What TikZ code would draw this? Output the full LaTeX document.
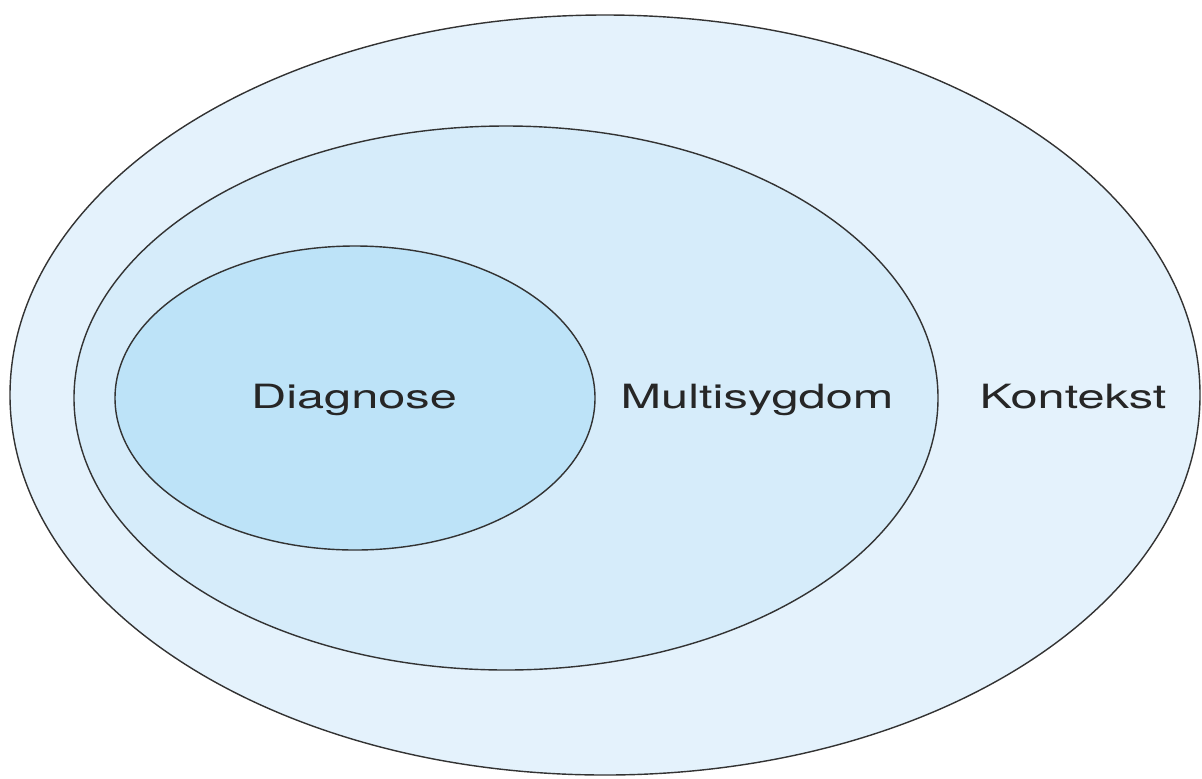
\documentclass[tikz,border=0pt]{standalone}
\usepackage{fontspec}
\setmainfont{TeX Gyre Heros}
\usepackage{tikz}
\definecolor{ringout}{HTML}{E4F2FC}
\definecolor{ringmid}{HTML}{D6ECFA}
\definecolor{ringin}{HTML}{BDE3F8}
\definecolor{rimgray}{HTML}{333333}
\newcommand{\widetext}[1]{\scalebox{1.46}[1]{#1}}
\tikzset{
  ring/.style={draw=rimgray, line width=0.8pt},
  lbl/.style={anchor=base, inner sep=0pt, text=black!85,
    font=\fontsize{19}{23}\selectfont}
}

\begin{document}
\begin{tikzpicture}[x=0.02cm, y=-0.02cm]
    \useasboundingbox (0,0) rectangle (1202,778);
    % Define centres
    \coordinate (Cout) at (605, 395);
    \coordinate (Cmid) at (506, 398);
    \coordinate (Cin) at (355, 398);
    % Draw the rings
    \draw[ring, fill=ringout] (Cout) ellipse [x radius=595, y radius=380];
    \draw[ring, fill=ringmid] (Cmid) ellipse [x radius=432, y radius=272];
    \draw[ring, fill=ringin] (Cin) ellipse [x radius=240, y radius=152];
    % Label the rings
    \node[lbl] (diagnose) at (354, 408) {\widetext{Diagnose}};
    \node[lbl] (multi) at (757, 408) {\widetext{Multisygdom}};
    \node[lbl] (kontekst) at (1073, 408) {\widetext{Kontekst}};
\end{tikzpicture}
\end{document}
